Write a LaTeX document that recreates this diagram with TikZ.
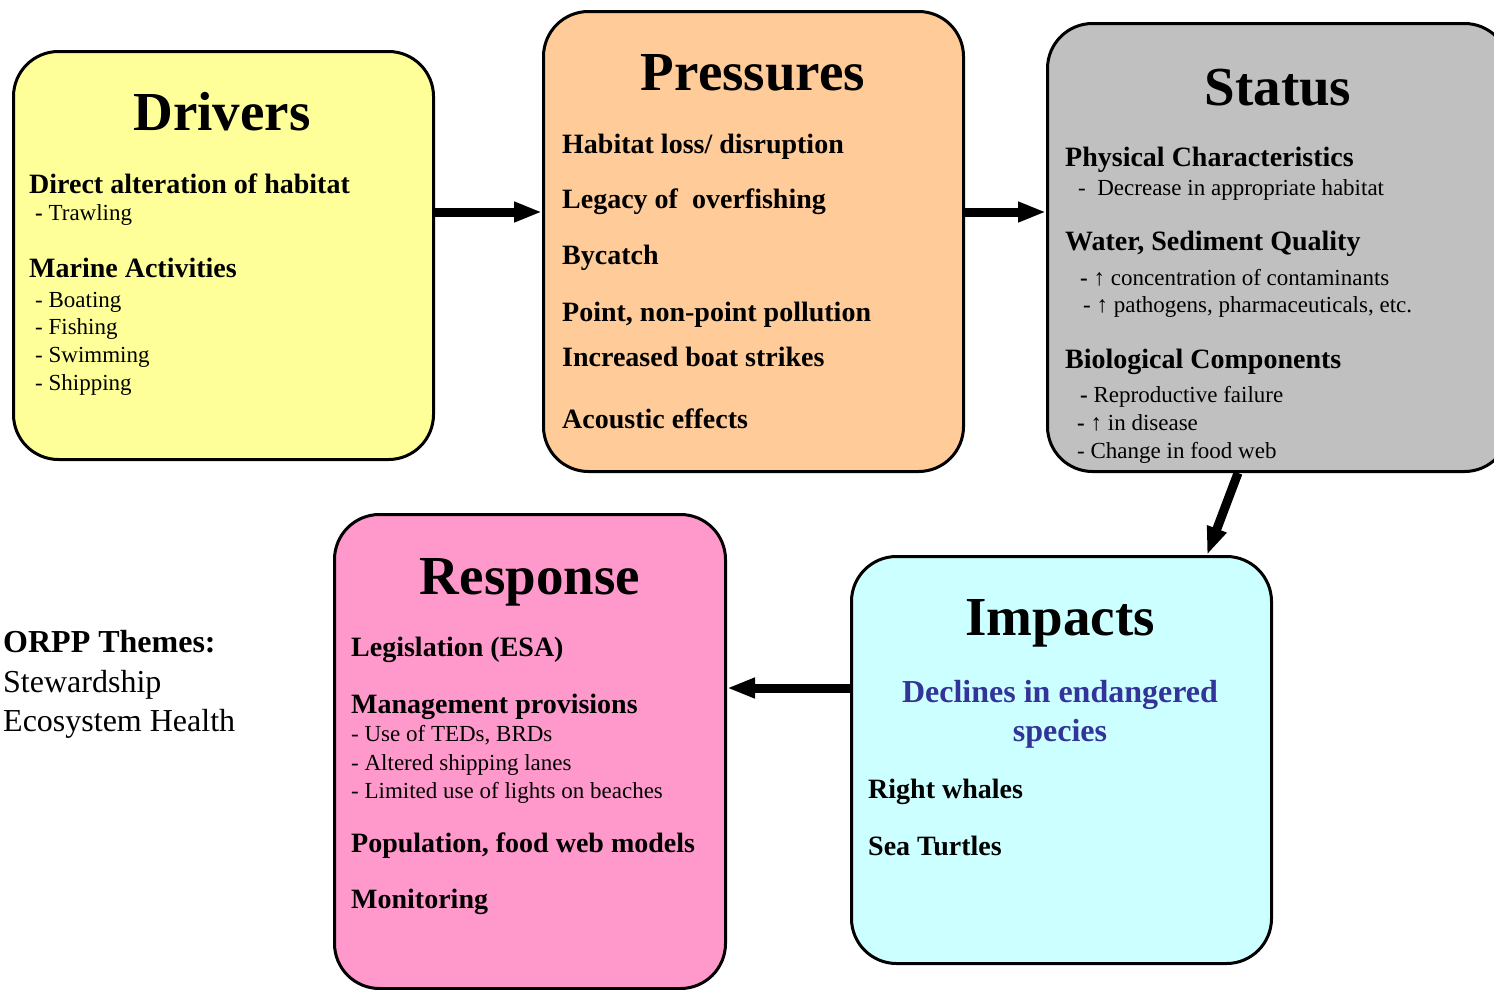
\documentclass[tikz,border=0pt]{standalone}
\usepackage{fontspec}
\setmainfont{Liberation Serif}
\usetikzlibrary{arrows.meta}
\definecolor{cdrv}{HTML}{FFFF99}
\definecolor{cpre}{HTML}{FFCC99}
\definecolor{csta}{HTML}{C0C0C0}
\definecolor{cimp}{HTML}{CCFFFF}
\definecolor{cres}{HTML}{FF99CC}
\definecolor{cblue}{HTML}{333399}
\begin{document}
\begin{tikzpicture}[x=1pt,y=-1pt,
  box/.style={draw=black, line width=3pt, rounded corners=45pt, anchor=north west, inner sep=0pt},
  ttl/.style={font=\fontsize{55}{60}\selectfont\bfseries, anchor=base, inner sep=0pt},
  hd/.style={font=\fontsize{28}{30}\selectfont\bfseries, anchor=base west, inner sep=0pt},
  itm/.style={font=\fontsize{23}{25}\selectfont, anchor=base west, inner sep=0pt},
  blu/.style={font=\fontsize{32}{36}\selectfont\bfseries, text=cblue, anchor=base, inner sep=0pt},
  orpp/.style={font=\fontsize{32}{36}\selectfont, anchor=base west, inner sep=0pt},
  arr/.style={line width=9pt, -{Triangle[length=28pt,width=19pt]}}]
\useasboundingbox (0,0) rectangle (1494,989);
\clip (0,0) rectangle (1494,989);

% boxes
\node[box, fill=cdrv, minimum width=420pt, minimum height=408pt] (drivers) at (12,50) {};
\node[box, fill=cpre, minimum width=420pt, minimum height=460pt] (pressures) at (542,10) {};
\node[box, fill=csta, minimum width=462pt, minimum height=448pt] (status) at (1046,22) {};
\node[box, fill=cimp, minimum width=420pt, minimum height=407pt] (impacts) at (850,555) {};
\node[box, fill=cres, minimum width=391pt, minimum height=474pt] (response) at (333,513) {};

% Drivers text
\node[ttl] (dt) at (222,130) {Drivers};
\node[hd] (d1) at (29,193) {Direct alteration of habitat};
\node[itm] (d2) at (35,220) {\textbf{-} Trawling};
\node[hd] (d3) at (29,277) {Marine Activities};
\node[itm] (d4) at (35,307) {- Boating};
\node[itm] (d5) at (35,334) {- Fishing};
\node[itm] (d6) at (35,362) {- Swimming};
\node[itm] (d7) at (35,390) {- Shipping};

% Pressures text
\node[ttl] (pt) at (753,90) {Pressures};
\node[hd] (p1) at (562,153) {Habitat loss/ disruption};
\node[hd] (p2) at (562,208) {Legacy of~ overfishing};
\node[hd] (p3) at (562,264) {Bycatch};
\node[hd] (p4) at (562,321) {Point, non-point pollution};
\node[hd] (p5) at (562,366) {Increased boat strikes};
\node[hd] (p6) at (562,428) {Acoustic effects};

% Status text
\node[ttl] (st) at (1278,105) {Status};
\node[hd] (s1) at (1065,166) {Physical Characteristics};
\node[itm] (s2) at (1078,195) {-~ Decrease in appropriate habitat};
\node[hd] (s3) at (1065,250) {Water, Sediment Quality};
\node[itm] (s4) at (1080,285) {\textbf{-} ↑ concentration of contaminants};
\node[itm] (s5) at (1083,312) {- ↑ pathogens, pharmaceuticals, etc.};
\node[hd] (s6) at (1065,368) {Biological Components};
\node[itm] (s7) at (1080,402) {\textbf{-} Reproductive failure};
\node[itm] (s8) at (1077,430) {\textbf{-} ↑ in disease};
\node[itm] (s9) at (1077,458) {- Change in food web};

% Impacts text
\node[ttl] (it) at (1060,635) {Impacts};
\node[blu] (i1) at (1060,702) {Declines in endangered};
\node[blu] (i2) at (1060,741) {species};
\node[hd] (i3) at (868,798) {Right whales};
\node[hd] (i4) at (868,855) {Sea Turtles};

% Response text
\node[ttl] (rt) at (530,594) {Response};
\node[hd] (r1) at (351,656) {Legislation (ESA)};
\node[hd] (r2) at (351,713) {Management provisions};
\node[itm] (r3) at (351,741) {- Use of TEDs, BRDs};
\node[itm] (r4) at (351,770) {- Altered shipping lanes};
\node[itm] (r5) at (351,798) {- Limited use of lights on beaches};
\node[hd] (r6) at (351,852) {Population, food web models};
\node[hd] (r7) at (351,908) {Monitoring};

% ORPP themes
\node[orpp, font=\fontsize{32}{36}\selectfont\bfseries] (o1) at (3,652) {ORPP Themes:};
\node[orpp] (o2) at (3,692) {Stewardship};
\node[orpp] (o3) at (3,731) {Ecosystem Health};

% connectors
\coordinate (a1) at (0,212);
\coordinate (a3s) at (1238,0);
\coordinate (a3e) at (1207,0);
\coordinate (a4) at (0,688);
\draw[arr] (drivers.east |- a1) -- (pressures.west |- a1);
\draw[arr] (pressures.east |- a1) -- (status.west |- a1);
\draw[arr] (status.south -| a3s) -- (impacts.north -| a3e);
\draw[arr] (impacts.west |- a4) -- (response.east |- a4);
\end{tikzpicture}
\end{document}
